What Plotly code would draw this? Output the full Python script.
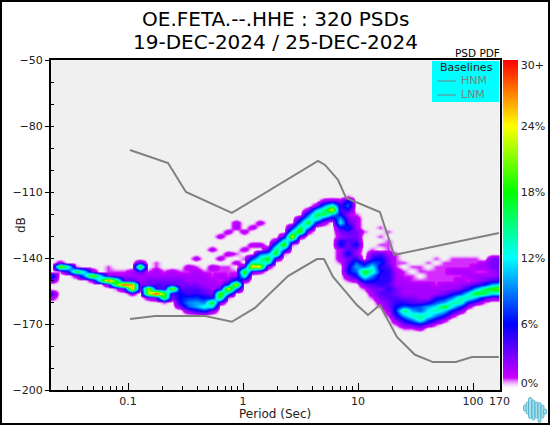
import base64
import numpy as np
import plotly.graph_objects as go

TITLE_LINES = ["OE.FETA.--.HHE : 320 PSDs", "19-DEC-2024 / 25-DEC-2024"]

# Baselines
hnm_period = [0.104, 0.223, 0.319, 0.80, 4.49, 5.17, 6.7, 7.87, 15.5, 20.6, 168]
hnm_db = [-90.9, -96.8, -110, -119.5, -95.9, -97.7, -104.5, -112.7, -119.1, -138.6, -128.6]
lnm_period = [0.104, 0.172, 0.468, 0.80, 1.27, 2.46, 4.4, 5.06, 6.07, 9.8, 12.2, 15.5, 21.8, 31.3, 44.9, 71.1, 98, 168]
lnm_db = [-167.7, -166.4, -166.4, -169, -162.7, -148.2, -140.5, -140.5, -148.6, -161.4, -165.9, -161.4, -175.9, -184, -187.3, -187.3, -185, -185]

# Period columns of the PDF (log10 seconds), one every 0.0696 decades
first_log_period = -1.661
log_period_step = 0.0696
# dB -> percent for each period column
pdf_columns = [
 {-148:7,-150:3,-156:4,-158:2},
 {-142:2,-144:22,-146:1},
 {-144:14,-146:6},
 {-144:1,-146:18,-148:2},
 {-146:12,-148:10},
 {-146:3,-148:22,-150:2},
 {-148:12,-150:14},
 {-144:1,-146:1,-148:3,-150:28,-152:3},
 {-146:1,-148:2,-150:18,-152:20,-154:1},
 {-146:1,-148:2,-150:4,-152:30,-154:4},
 {-146:2,-148:2,-150:4,-152:26,-154:26,-156:2},
 {-142:4,-144:20,-146:4,-148:2,-150:2,-152:3,-154:3},
 {-146:1,-148:2,-150:3,-152:3,-154:22,-156:22,-158:2},
 {-142:1,-144:1,-146:2,-148:2,-150:3,-152:4,-154:5,-156:30,-158:4},
 {-146:1,-148:2,-150:3,-152:4,-154:4,-156:20,-158:18,-160:1},
 {-146:2,-148:2,-150:3,-152:4,-154:22,-156:4,-158:3},
 {-146:1,-148:2,-150:3,-152:3,-154:4,-156:6,-158:6,-160:6,-162:3},
 {-144:2,-146:1,-148:2,-150:2,-152:3,-154:4,-156:4,-158:7,-160:9,-162:8,-164:3},
 {-140:2,-144:1,-146:2,-148:2,-150:2,-152:3,-154:4,-156:5,-158:7,-160:10,-162:10,-164:5},
 {-146:1,-148:2,-150:2,-152:2,-154:3,-156:4,-158:6,-160:9,-162:13,-164:7},
 {-136:2,-144:2,-146:1,-148:1,-150:2,-152:2,-154:2,-156:3,-158:5,-160:18,-162:12,-164:3},
 {-130:2,-140:2,-144:1,-146:1,-148:2,-150:1,-152:2,-154:4,-156:20,-158:18,-160:3},
 {-128:2,-138:2,-144:1,-146:1,-148:1,-150:3,-152:7,-154:24,-156:10,-158:1},
 {-124:2,-126:2,-138:1,-142:2,-146:1,-148:2,-150:8,-152:24,-154:9},
 {-128:2,-136:2,-140:1,-144:4,-146:20,-148:14,-150:3},
 {-126:2,-134:2,-140:7,-142:14,-144:26,-146:4},
 {-124:2,-134:2,-138:8,-140:14,-142:13,-144:24,-146:2},
 {-136:4,-138:10,-140:18,-142:14,-144:2},
 {-132:3,-134:9,-136:16,-138:18,-140:4},
 {-130:5,-132:13,-134:20,-136:8,-138:1},
 {-126:6,-128:12,-130:24,-132:10,-134:1},
 {-122:5,-124:9,-126:16,-128:20,-130:3},
 {-118:2,-120:8,-122:12,-124:18,-126:10,-128:2},
 {-116:2,-118:10,-120:16,-122:14,-124:6},
 {-114:2,-116:9,-118:15,-120:16,-122:7,-124:2},
 {-114:3,-116:14,-118:24,-120:10,-122:4},
 {-114:2,-116:5,-118:4,-120:6,-122:10,-124:12,-126:5,-128:3,-130:2,-132:5,-134:6,-136:2,-138:2,-140:2,-142:1},
 {-112:1,-114:6,-116:8,-118:5,-120:2,-122:3,-124:4,-126:7,-128:4,-130:3,-132:4,-134:3,-136:4,-138:6,-140:3,-142:4,-144:5,-146:6,-148:3,-150:1},
 {-120:1,-122:2,-124:2,-126:2,-128:3,-130:3,-132:4,-134:6,-136:3,-138:2,-140:5,-142:8,-144:10,-146:8,-148:6,-150:2},
 {-128:1,-142:5,-144:8,-146:18,-148:14,-150:7,-152:3,-154:1},
 {-136:1,-138:3,-140:5,-142:8,-144:12,-146:14,-148:9,-150:6,-152:4,-154:3,-156:2,-158:1},
 {-126:1,-130:1,-134:1,-138:4,-140:6,-142:7,-144:5,-146:6,-148:5,-150:5,-152:5,-154:3,-156:4,-158:3,-160:2,-162:1},
 {-128:1,-132:1,-134:1,-136:1,-138:2,-140:3,-142:3,-144:4,-146:5,-148:5,-150:5,-152:4,-154:5,-156:4,-158:4,-160:3,-162:3,-164:2,-166:1},
 {-138:1,-140:1,-142:1,-144:1,-146:2,-148:2,-150:2,-152:2,-154:3,-156:3,-158:4,-160:5,-162:6,-164:7,-166:5,-168:3,-170:1},
 {-142:1,-146:1,-148:1,-150:2,-152:2,-154:2,-156:2,-158:3,-160:5,-162:8,-164:16,-166:10,-168:6,-170:3,-172:1},
 {-144:1,-148:1,-150:1,-152:2,-154:2,-156:2,-158:3,-160:4,-162:7,-164:10,-166:14,-168:9,-170:4,-172:1},
 {-144:1,-146:1,-150:1,-152:2,-154:2,-156:2,-158:2,-160:4,-162:8,-164:8,-166:14,-168:14,-170:5,-172:2},
 {-142:1,-146:1,-148:1,-150:1,-152:2,-154:2,-156:2,-158:2,-160:5,-162:10,-164:12,-166:13,-168:8,-170:3},
 {-140:1,-144:1,-146:1,-148:1,-150:1,-152:1,-154:2,-156:2,-158:5,-160:8,-162:12,-164:14,-166:9,-168:5,-170:1},
 {-142:1,-144:1,-146:1,-148:1,-150:1,-152:2,-154:2,-156:3,-158:6,-160:10,-162:18,-164:11,-166:6,-168:2},
 {-140:1,-142:1,-144:1,-146:2,-148:1,-150:1,-152:2,-154:2,-156:5,-158:9,-160:14,-162:12,-164:6,-166:2},
 {-140:1,-142:1,-144:1,-146:2,-148:1,-150:2,-152:2,-154:3,-156:7,-158:14,-160:14,-162:7,-164:3},
 {-140:1,-142:1,-144:1,-146:2,-148:2,-150:1,-152:3,-154:5,-156:12,-158:14,-160:6,-162:2},
 {-140:1,-142:1,-144:2,-146:1,-148:2,-150:2,-152:4,-154:10,-156:18,-158:10,-160:3},
 {-142:2,-144:2,-146:1,-148:2,-150:3,-152:6,-154:15,-156:17,-158:5,-160:1},
 {-140:3,-142:3,-144:3,-146:2,-148:2,-150:4,-152:10,-154:19,-156:12,-158:3},
 {-140:3,-142:3,-144:3,-146:3,-148:3,-150:5,-152:12,-154:20,-156:12,-158:3},
]
db_rows = list(range(-176, -106, 2))

colorbar_ticks = [0.6, 6, 12, 18, 24, 29.5]
colorbar_labels = ["0%", "6%", "12%", "18%", "24%", "30+"]
x_ticks = [0.1, 1, 10, 100, 170]
x_labels = ["0.1", "1", "10", "100", "170"]
x_minor = [m * d for d in (0.01, 0.1, 1, 10) for m in range(2, 10) if 0.0214 < m * d < 170]

W, H = 550, 425
L, R, T, B = 51, 499.5, 60, 390

def px(x):
    return x / W

def py(y):
    return 1 - y / H

periods = 10 ** (first_log_period + log_period_step * np.arange(len(pdf_columns)))
z = [[col.get(db, 0) for col in pdf_columns] for db in db_rows]

colorscale = [
    [0, "rgba(255,255,255,0)"],
    [0.35 / 30, "rgba(240,190,255,0.35)"],
    [1.1 / 30, "#cc00ff"],
    [6 / 30, "#0000ff"],
    [12 / 30, "#00ffff"],
    [18 / 30, "#00ff00"],
    [24 / 30, "#ffff00"],
    [1, "#ff0000"],
]

logo = """<svg xmlns='http://www.w3.org/2000/svg' width='24' height='26' viewBox='0 0 24 26'>
<g fill='#a9dce9' stroke='#3fa9c9' stroke-width='0.8'>
<rect x='0.5' y='8' width='3' height='6' rx='1.5'/><rect x='3' y='5' width='3' height='12' rx='1.5'/>
<rect x='5.5' y='0.5' width='3.5' height='21' rx='1.7'/><rect x='9' y='3' width='3' height='20' rx='1.5'/>
<rect x='12' y='5' width='3' height='16' rx='1.5'/><rect x='15' y='5.5' width='3' height='20' rx='1.5'/>
<rect x='18' y='8' width='3' height='13' rx='1.5'/><rect x='20.5' y='12' width='3' height='5' rx='1.5'/>
</g></svg>"""
logo_uri = "data:image/svg+xml;base64," + base64.b64encode(logo.encode()).decode()

FONT = "DejaVu Sans"
INK = "#222222"
GRAY = "#808080"

fig = go.Figure()
fig.add_trace(go.Heatmap(
    x=periods, y=db_rows, z=z, zmin=0, zmax=30, zsmooth="best",
    colorscale=colorscale, hoverinfo="skip", showlegend=False,
    colorbar=dict(
        x=px(503), xanchor="left", y=py(B), yanchor="bottom", len=(B - T) / H, lenmode="fraction",
        thickness=15, thicknessmode="pixels", xpad=0, ypad=0, outlinewidth=0, borderwidth=0,
        tickmode="array", tickvals=colorbar_ticks, ticktext=colorbar_labels,
        ticks="", ticklen=0, tickfont=dict(family=FONT, size=11, color=INK),
    ),
))
line = dict(color=GRAY, width=2)
fig.add_trace(go.Scatter(x=hnm_period, y=hnm_db, name="HNM", mode="lines", line=line, yaxis="y2", showlegend=False))
fig.add_trace(go.Scatter(x=lnm_period, y=lnm_db, name="LNM", mode="lines", line=line, yaxis="y2", showlegend=False))


def text(s, x, y, anchor="center", size=11, color=INK):
    return dict(text=s, xref="paper", yref="paper", x=px(x), y=py(y), xanchor=anchor, yanchor="middle",
                showarrow=False, font=dict(family=FONT, size=size, color=color))


fig.update_layout(
    width=W, height=H, autosize=False,
    margin=dict(l=0, r=0, t=0, b=0, pad=0, autoexpand=False),
    showlegend=False,
    paper_bgcolor="white", plot_bgcolor="#f0f0f0",
    font=dict(family=FONT, size=11, color=INK),
    xaxis=dict(
        domain=[px(L), px(R)],
        type="log", range=[np.log10(0.0214), np.log10(170)],
        tickmode="array", tickvals=x_ticks, ticktext=x_labels, ticks="inside", ticklen=7,
        tickcolor="black", tickwidth=1, showgrid=False, zeroline=False,
        showline=True, linecolor="black", linewidth=2, mirror=True,
        minor=dict(tickmode="array", tickvals=x_minor, ticks="inside", ticklen=4,
                   tickcolor="black", showgrid=False),
    ),
    yaxis=dict(
        domain=[py(B), py(T)],
        range=[-200, -50], tickmode="linear", tick0=-50, dtick=30, ticks="outside", ticklen=4,
        tickcolor="black", showgrid=False, zeroline=False,
        showline=True, linecolor="black", linewidth=2, mirror=True,
    ),
    yaxis2=dict(
        domain=[py(B), py(T)],
        overlaying="y", side="left", range=[-200, -50], tickmode="linear", tick0=-50, dtick=10,
        ticks="inside", ticklen=3, tickcolor="black", showticklabels=False,
        showgrid=False, zeroline=False, showline=False,
    ),
    annotations=[
        text(TITLE_LINES[0], 275, 19, size=20, color="black"),
        text(TITLE_LINES[1], 275, 42, size=20, color="black"),
        text("PSD PDF", 477, 53, size=10.5, color="black"),
        text("Baselines", 466, 67),
        text("HNM", 459, 81, "left", color=GRAY),
        text("LNM", 459, 95, "left", color=GRAY),
        text("Period (Sec)", 275, 414, size=12),
        dict(text="dB", xref="paper", yref="paper", x=px(12), y=py(225), textangle=-90,
             showarrow=False, font=dict(family=FONT, size=12, color=INK)),
    ],
    images=[dict(source=logo_uri, xref="paper", yref="paper", x=px(523), y=py(397),
                 sizex=24 / W, sizey=26 / H, xanchor="left", yanchor="top", layer="above",
                 sizing="stretch")],
    shapes=[
        dict(type="rect", xref="paper", yref="paper", x0=px(432), x1=px(499), y0=py(102), y1=py(61),
             fillcolor="#00ffff", line=dict(width=0), layer="above"),
        dict(type="line", xref="paper", yref="paper", x0=px(437), x1=px(456), y0=py(81), y1=py(81),
             line=dict(color=GRAY, width=1), layer="above"),
        dict(type="line", xref="paper", yref="paper", x0=px(437), x1=px(456), y0=py(95), y1=py(95),
             line=dict(color=GRAY, width=1), layer="above"),
        dict(type="rect", xref="paper", yref="paper", x0=0, x1=1, y0=0, y1=1,
             line=dict(color="black", width=4), fillcolor="rgba(0,0,0,0)", layer="above"),
    ],
)

fig.write_html("out.html", config=dict(displayModeBar=False),
               post_script="document.body.style.margin='0';document.body.style.overflow='hidden';")
